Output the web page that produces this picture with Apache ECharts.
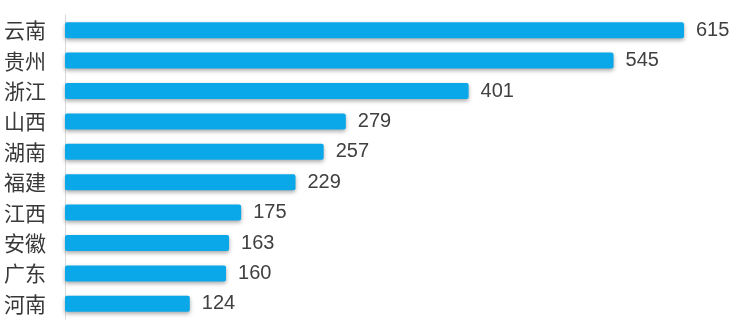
<!DOCTYPE html>
<html>
<head>
<meta charset="utf-8">
<script src="https://cdn.jsdelivr.net/npm/echarts@6/dist/echarts.min.js"></script>
<style>
  html, body { margin: 0; padding: 0; background: #ffffff; }
  #chart { width: 745px; height: 325px; }
</style>
</head>
<body>
<div id="chart"></div>
<script>
// Provinces, top to bottom
const provinces = ['云南', '贵州', '浙江', '山西', '湖南', '福建', '江西', '安徽', '广东', '河南'];
const counts = [615, 545, 401, 279, 257, 229, 175, 163, 160, 124];

const chart = echarts.init(document.getElementById('chart'), null, { renderer: 'canvas' });

chart.setOption({
  animation: false,
  backgroundColor: '#ffffff',
  grid: { left: 65, right: 61, top: 15, bottom: 6, containLabel: false },
  xAxis: {
    type: 'value',
    min: 0,
    max: 615,
    show: false
  },
  yAxis: {
    type: 'category',
    inverse: true,
    data: provinces,
    axisLine: { show: true, lineStyle: { color: '#d9d9d9', width: 1 } },
    axisTick: { show: false },
    axisLabel: {
      color: '#383838',
      fontSize: 21,
      margin: 19,
      fontFamily: '"Noto Sans CJK SC", sans-serif'
    }
  },
  series: [{
    type: 'bar',
    data: counts,
    barWidth: 16,
    itemStyle: {
      color: '#0aa8e8',
      borderRadius: 2,
      shadowColor: 'rgba(0,0,0,0.35)',
      shadowBlur: 4,
      shadowOffsetY: 2
    },
    label: {
      show: true,
      position: 'right',
      distance: 12,
      color: '#404040',
      fontSize: 20,
      fontFamily: '"Liberation Sans", Arial, sans-serif'
    }
  }]
});
</script>
</body>
</html>
